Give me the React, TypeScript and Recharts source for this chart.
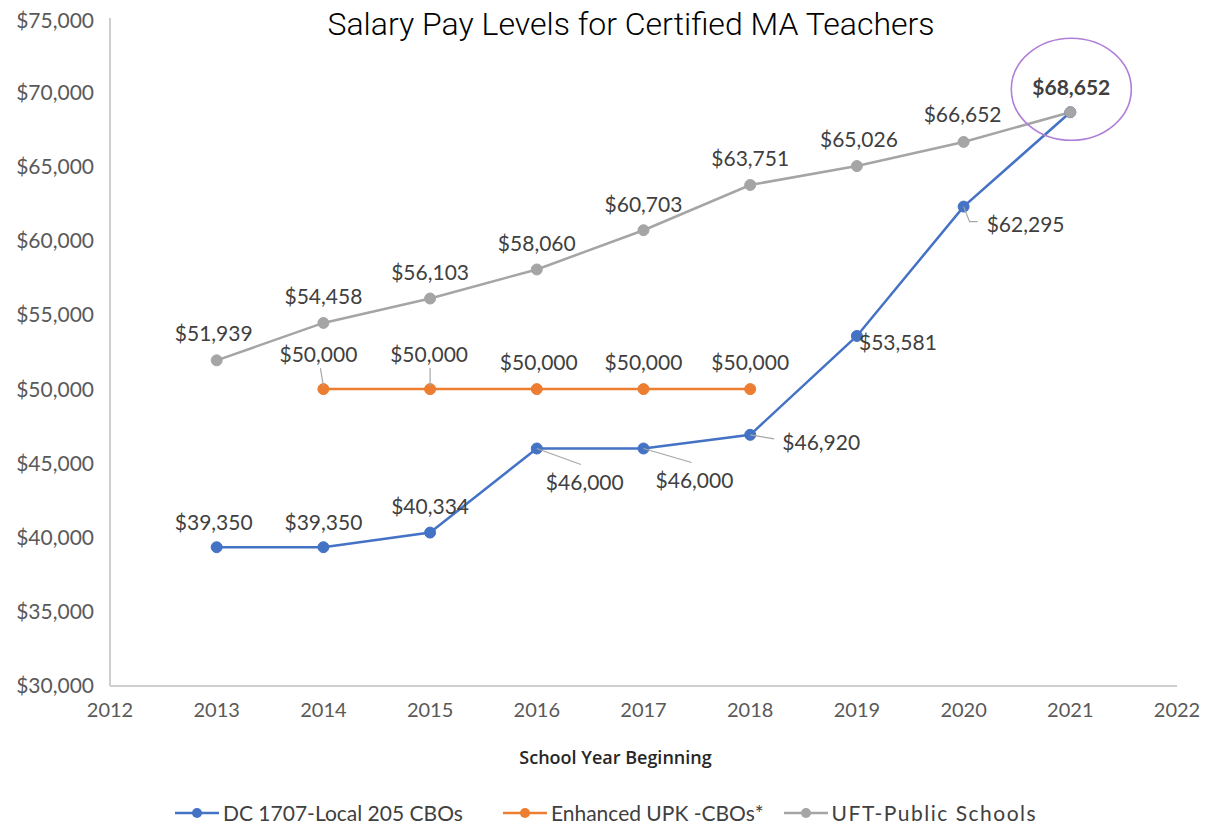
import React from 'react';
import { LineChart, Line, XAxis, YAxis, LabelList, Legend, ReferenceDot } from 'recharts';

// ---------- data ----------
const chartTitle = 'Salary Pay Levels for Certified MA Teachers';
const xAxisTitle = 'School Year Beginning';

const years = [2013, 2014, 2015, 2016, 2017, 2018, 2019, 2020, 2021];
const dcValues = [39350, 39350, 40334, 46000, 46000, 46920, 53581, 62295, 68652];
const upkYears = [2014, 2015, 2016, 2017, 2018];
const upkValues = [50000, 50000, 50000, 50000, 50000];
const uftValues = [51939, 54458, 56103, 58060, 60703, 63751, 65026, 66652, 68652];

const seriesNames = ['DC 1707-Local 205 CBOs', 'Enhanced UPK -CBOs*', 'UFT-Public Schools'];
const xTicks = [2012, 2013, 2014, 2015, 2016, 2017, 2018, 2019, 2020, 2021, 2022];
const yTicks = [30000, 35000, 40000, 45000, 50000, 55000, 60000, 65000, 70000, 75000];
const highlightYear = 2021;
const highlightValue = 68652;

const dcData = years.map((year, i) => ({ year, value: dcValues[i] }));
const upkData = upkYears.map((year, i) => ({ year, value: upkValues[i] }));
const uftData = years.map((year, i) => ({ year, value: uftValues[i] }));

// ---------- styles ----------
const COLORS = ['#4472C4', '#ED7D31', '#A5A5A5'];
const LABEL_FONT = 'Lato, "Open Sans", sans-serif';
const LABEL_COLOR = '#404040';
const TICK_COLOR = '#595959';

type Placement = { dx: number; dy: number; leader?: number[]; bold?: boolean } | null;

// label placement relative to the point (text centre)
const dcPlacement: Placement[] = [
  { dx: -3, dy: -26 },
  { dx: 0, dy: -26 },
  { dx: 0, dy: -27 },
  { dx: 48, dy: 33, leader: [0, 0, 44, 16] },
  { dx: 51, dy: 31, leader: [0, 0, 48, 14] },
  { dx: 71, dy: 7, leader: [0, 0, 24, 4] },
  { dx: 41, dy: 6 },
  { dx: 62, dy: 17, leader: [0, 0, 6, 15, 14] },
  null,
];
const upkPlacement: Placement[] = [
  { dx: -5, dy: -36, leader: [0, -3, -3, -21] },
  { dx: -1, dy: -36, leader: [0, -3, 0, -21] },
  { dx: 2, dy: -28 },
  { dx: 0, dy: -28 },
  { dx: 0, dy: -28 },
];
const uftPlacement: Placement[] = [
  { dx: -3, dy: -28 },
  { dx: 0, dy: -27 },
  { dx: 0, dy: -27 },
  { dx: 0, dy: -27 },
  { dx: 0, dy: -27 },
  { dx: 0, dy: -27 },
  { dx: 2, dy: -28 },
  { dx: -1, dy: -28 },
  { dx: 1, dy: -26, bold: true },
];

const fmt = (v: number) => '$' + v.toLocaleString('en-US');

function makeLabel(placements: Placement[]) {
  return (props: any) => {
    const x = props.x ?? props.viewBox?.x;
    const y = props.y ?? props.viewBox?.y;
    const { value, index } = props;
    const p = placements[index];
    if (!p || x == null || y == null) return null;
    const leader = p.leader;
    let leaderEl = null;
    if (leader) {
      if (leader.length === 5) {
        leaderEl = (
          <polyline
            points={`${x + leader[0]},${y + leader[1]} ${x + leader[2]},${y + leader[3]} ${x + leader[4]},${y + leader[3]}`}
            fill="none"
            stroke="#A6A6A6"
            strokeWidth={1.2}
          />
        );
      } else {
        leaderEl = (
          <line
            x1={x + leader[0]}
            y1={y + leader[1]}
            x2={x + leader[2]}
            y2={y + leader[3]}
            stroke="#A6A6A6"
            strokeWidth={1.2}
          />
        );
      }
    }
    return (
      <g>
        {leaderEl}
        <text
          x={x + p.dx}
          y={y + p.dy}
          textAnchor="middle"
          dominantBaseline="central"
          fontFamily={LABEL_FONT}
          fontSize={21}
          fontWeight={p.bold ? 700 : 400}
          fill={LABEL_COLOR}
        >
          {fmt(value)}
        </text>
      </g>
    );
  };
}

const legendGaps = [40, 20, 0];
const legendSpacing = [0, 0, 1.5];

function LegendContent() {
  return (
    <div style={{ display: 'flex', alignItems: 'center', fontFamily: LABEL_FONT, fontSize: 21, color: LABEL_COLOR, whiteSpace: 'nowrap' }}>
      {seriesNames.map((name, i) => (
        <div key={name} style={{ display: 'flex', alignItems: 'center', marginRight: legendGaps[i] }}>
          <svg width={44} height={14} style={{ marginRight: 4 }}>
            <line x1={0} y1={7} x2={44} y2={7} stroke={COLORS[i]} strokeWidth={2.5} />
            <circle cx={22} cy={7} r={5} fill={COLORS[i]} />
          </svg>
          <span style={{ letterSpacing: legendSpacing[i] }}>{name}</span>
        </div>
      ))}
    </div>
  );
}

const HighlightEllipse = (props: any) => {
  const { cx, cy } = props;
  if (cx == null || cy == null) return null;
  return <ellipse cx={cx + 1} cy={cy - 23} rx={60} ry={51} fill="none" stroke="#B07FD8" strokeWidth={1.6} />;
};

export default function App() {
  const W = 1200;
  const H = 816;
  return (
    <div style={{ position: 'relative', width: W, height: H, background: '#fff' }}>
      <LineChart width={W} height={H} margin={{ top: 10, right: 31, left: 0, bottom: 78 }}>
        <XAxis
          dataKey="year"
          type="number"
          domain={[2012, 2022]}
          ticks={xTicks}
          allowDuplicatedCategory={false}
          height={60}
          tickLine={false}
          tickSize={0}
          tickMargin={17}
          axisLine={{ stroke: '#CFCFCF', strokeWidth: 2 }}
          tick={{ fill: TICK_COLOR, fontSize: 20, fontFamily: LABEL_FONT }}
          label={{
            content: (lp: any) => {
              const vb = lp.viewBox || {};
              return (
                <text
                  x={vb.x + vb.width / 2 - 28}
                  y={vb.y + 71}
                  textAnchor="middle"
                  dominantBaseline="central"
                  fontFamily='"Open Sans", Lato, sans-serif'
                  fontWeight={600}
                  fontSize={18}
                  fill="#262626"
                >
                  {xAxisTitle}
                </text>
              );
            },
          }}
        />
        <YAxis
          type="number"
          domain={[30000, 75000]}
          ticks={yTicks}
          width={102}
          tickLine={false}
          tickSize={0}
          tickMargin={16}
          axisLine={{ stroke: '#CFCFCF', strokeWidth: 2 }}
          tickFormatter={fmt}
          tick={{ fill: TICK_COLOR, fontSize: 21, fontFamily: LABEL_FONT }}
        />
        <Legend
          layout="horizontal"
          verticalAlign="middle"
          align="center"
          wrapperStyle={{ position: 'absolute', top: 792, left: 167, width: 'auto' }}
          content={() => <LegendContent />}
        />
        <Line
          data={dcData}
          dataKey="value"
          name={seriesNames[0]}
          stroke={COLORS[0]}
          strokeWidth={2.5}
          dot={{ r: 5.5, fill: COLORS[0], stroke: COLORS[0], strokeWidth: 1 }}
          isAnimationActive={false}
        >
          <LabelList dataKey="value" content={makeLabel(dcPlacement)} />
        </Line>
        <Line
          data={upkData}
          dataKey="value"
          name={seriesNames[1]}
          stroke={COLORS[1]}
          strokeWidth={2.5}
          dot={{ r: 5.5, fill: COLORS[1], stroke: COLORS[1], strokeWidth: 1 }}
          isAnimationActive={false}
        >
          <LabelList dataKey="value" content={makeLabel(upkPlacement)} />
        </Line>
        <Line
          data={uftData}
          dataKey="value"
          name={seriesNames[2]}
          stroke={COLORS[2]}
          strokeWidth={2.5}
          dot={{ r: 5.5, fill: COLORS[2], stroke: COLORS[2], strokeWidth: 1 }}
          isAnimationActive={false}
        >
          <LabelList dataKey="value" content={makeLabel(uftPlacement)} />
        </Line>
        <ReferenceDot x={highlightYear} y={highlightValue} ifOverflow="visible" shape={HighlightEllipse} />
      </LineChart>
      <div
        style={{
          position: 'absolute',
          left: 0,
          top: -3,
          width: 1246,
          textAlign: 'center',
          fontFamily: 'Roboto, sans-serif',
          fontWeight: 300,
          fontSize: 32,
          lineHeight: '38px',
          color: '#000',
          whiteSpace: 'nowrap',
          pointerEvents: 'none',
        }}
      >
        {chartTitle}
      </div>
      <svg
        width={W}
        height={H}
        style={{ position: 'absolute', left: 0, top: 0, pointerEvents: 'none' }}
      >
        <line x1={1198} y1={91} x2={1198} y2={191} stroke="#B98AE0" strokeWidth={2.5} />
      </svg>
    </div>
  );
}
